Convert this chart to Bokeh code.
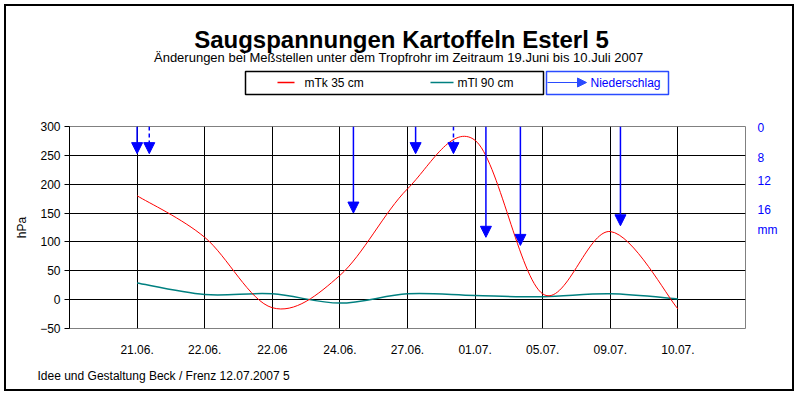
from bokeh.plotting import figure
from bokeh.layouts import column
from bokeh.models import (Range1d, FixedTicker, LinearAxis, Arrow, NormalHead, ColumnDataSource)
from bokeh.core.properties import value
from bokeh.embed import file_html
from bokeh.resources import INLINE

# ---------------- data ----------------
categories = ["21.06.", "22.06.", "22.06", "24.06.", "27.06.", "01.07.", "05.07.", "09.07.", "10.07."]
positions = [1, 2, 3, 4, 5, 6, 7, 8, 9]
mTk_35 = [180, 108, -14, 42, 192, 276, 10, 118, -16]
mTl_90 = [29, 9, 10, -6, 10, 7, 5, 10, 1]
rain_pos = [1.00, 1.18, 4.20, 5.12, 5.68, 6.16, 6.67, 8.15]
rain_tip = [253, 253, 150, 253, 253, 108, 94, 128]      # arrow tips, in hPa axis units
rain_dashed = [False, True, False, False, True, False, False, False]
y_ticks = [-50, 0, 50, 100, 150, 200, 250, 300]
mm_labels = ["0", "8", "12", "16", "mm"]
mm_label_pos = [298, 245, 205, 156, 121]

TITLE = "Saugspannungen Kartoffeln Esterl 5"
SUBTITLE = "Änderungen bei Meßstellen unter dem Tropfrohr im Zeitraum 19.Juni bis  10.Juli 2007"
FOOTER = "Idee und Gestaltung Beck / Frenz 12.07.2007  5"
legend_names = ["mTk  35 cm", "mTl 90 cm"]
legend_colors = ["#ff0000", "#008080"]

# ---------------- layout (page pixels) ----------------
FONT = "Liberation Sans"
BLUE = "#0000ff"
LBLUE = "#2a4bff"
OX, OY = 6, 6                 # content origin (margin + border)
CW = 786                      # content width
HEAD_B = 116                  # bottom of header strip
FL, FR, FT, FB = 69, 745, 126, 328   # chart frame
MAIN_B = 362                  # bottom of chart strip
FOOT_B = 389                  # bottom of footer strip


def strip(top, bottom):
    f = figure(width=CW, height=bottom - top, x_range=Range1d(OX, OX + CW),
               y_range=Range1d(bottom, top), x_axis_type=None, y_axis_type=None,
               output_backend="svg", toolbar_location=None,
               min_border=0, min_border_left=0, min_border_right=0,
               min_border_top=0, min_border_bottom=0)
    f.frame_align = False
    f.title.visible = False
    f.outline_line_color = None
    f.grid.visible = False
    f.background_fill_color = "white"
    f.border_fill_color = "white"
    return f


# ---------- header ----------
head = strip(OY, HEAD_B)
head.text(x=[401], y=[39], text=[TITLE], text_font=value(FONT), text_font_size=value("24px"),
          text_font_style="bold", text_align="center", text_baseline="middle", text_color="black")
head.text(x=[400], y=[57], text=[SUBTITLE], text_font=value(FONT), text_font_size=value("13px"),
          text_align="center", text_baseline="middle", text_color="black")
head.quad(left=[245], right=[543], top=[71], bottom=[94], fill_color=None,
          line_color="black", line_width=1.5)
head.quad(left=[546], right=[668], top=[71], bottom=[94], fill_color=None,
          line_color=LBLUE, line_width=1.5)
head.segment(x0=[277, 430], y0=[82, 82], x1=[294, 453], y1=[82, 82],
             line_color=legend_colors, line_width=1.5)
head.text(x=[304, 457], y=[82, 82], text=legend_names, text_font=value(FONT),
          text_font_size=value("12px"), text_align="left", text_baseline="middle",
          text_color="black")
head.add_layout(Arrow(end=NormalHead(size=9, fill_color=LBLUE, line_color=LBLUE, line_width=1),
                      x_start=547, y_start=82, x_end=586, y_end=82,
                      line_color=LBLUE, line_width=1.2))
head.text(x=[590], y=[82], text=["Niederschlag"], text_font=value(FONT),
          text_font_size=value("12px"), text_align="left", text_baseline="middle",
          text_color=BLUE)

# ---------- main chart ----------
p = figure(width=CW, height=MAIN_B - HEAD_B, x_range=Range1d(0, 10), y_range=Range1d(-50, 300),
           output_backend="svg", toolbar_location=None,
           min_border_left=FL - OX, min_border_right=OX + CW - FR,
           min_border_top=FT - HEAD_B, min_border_bottom=MAIN_B - FB)
p.title.visible = False
p.background_fill_color = "white"
p.border_fill_color = "white"
p.outline_line_color = "#808080"
p.outline_line_width = 1

p.xaxis.ticker = FixedTicker(ticks=positions)
p.xaxis.major_label_overrides = {k: v for k, v in zip(positions, categories)}
p.xaxis.axis_line_color = None
p.xaxis.major_tick_line_color = None
p.xaxis.minor_tick_line_color = None
p.xaxis.major_tick_out = 0
p.xaxis.major_tick_in = 0
p.xaxis.major_label_standoff = 16
p.xaxis.major_label_text_font = FONT
p.xaxis.major_label_text_font_size = "12px"
p.xaxis.major_label_text_color = "black"

p.yaxis.ticker = FixedTicker(ticks=y_ticks)
p.yaxis.axis_line_color = "black"
p.yaxis.major_tick_line_color = "black"
p.yaxis.minor_tick_line_color = None
p.yaxis.major_tick_out = 5
p.yaxis.major_tick_in = 0
p.yaxis.major_label_standoff = 4
p.yaxis.major_label_text_font = FONT
p.yaxis.major_label_text_font_size = "12px"
p.yaxis.major_label_text_color = "black"
p.yaxis.axis_label = "hPa"
p.yaxis.axis_label_text_font = FONT
p.yaxis.axis_label_text_font_size = "12px"
p.yaxis.axis_label_text_font_style = "normal"
p.yaxis.axis_label_text_color = "black"
p.yaxis.axis_label_standoff = 8

p.xgrid.ticker = FixedTicker(ticks=positions)
p.xgrid.grid_line_color = "black"
p.ygrid.ticker = FixedTicker(ticks=y_ticks[1:-1])
p.ygrid.grid_line_color = "black"

right = LinearAxis(ticker=FixedTicker(ticks=mm_label_pos),
                   major_label_overrides={k: v for k, v in zip(mm_label_pos, mm_labels)},
                   axis_line_color=None, major_tick_line_color=None, minor_tick_line_color=None,
                   major_tick_out=0, major_tick_in=0, major_label_standoff=12,
                   major_label_text_font=FONT, major_label_text_font_size="12px",
                   major_label_text_color=BLUE)
p.add_layout(right, "right")


def smooth(xs, ys):
    """cubic Bezier segments through the data points (Excel-like smoothing)"""
    n = len(xs)
    pts = list(zip(xs, ys))
    d = {k: [] for k in ["x0", "y0", "x1", "y1", "cx0", "cy0", "cx1", "cy1"]}
    for i in range(n - 1):
        p0 = pts[i - 1] if i > 0 else pts[i]
        p1, p2 = pts[i], pts[i + 1]
        p3 = pts[i + 2] if i + 2 < n else pts[i + 1]
        d["x0"].append(p1[0]); d["y0"].append(p1[1])
        d["x1"].append(p2[0]); d["y1"].append(p2[1])
        d["cx0"].append(p1[0] + (p2[0] - p0[0]) / 6); d["cy0"].append(p1[1] + (p2[1] - p0[1]) / 6)
        d["cx1"].append(p2[0] - (p3[0] - p1[0]) / 6); d["cy1"].append(p2[1] - (p3[1] - p1[1]) / 6)
    return ColumnDataSource(d)


for ys, col, lw in [(mTl_90, "#008080", 1.5), (mTk_35, "#ff0000", 1)]:
    p.bezier(x0="x0", y0="y0", x1="x1", y1="y1", cx0="cx0", cy0="cy0", cx1="cx1", cy1="cy1",
             source=smooth(positions, ys), line_color=col, line_width=lw)

for dashed, dash in [(False, "solid"), (True, "4 3")]:
    idx = [i for i, dd in enumerate(rain_dashed) if dd == dashed]
    src = ColumnDataSource(dict(x=[rain_pos[i] for i in idx],
                                y0=[y_ticks[-1]] * len(idx),
                                y1=[rain_tip[i] for i in idx]))
    p.add_layout(Arrow(end=NormalHead(size=11, fill_color=BLUE, line_color=BLUE, line_width=1),
                       x_start="x", y_start="y0", x_end="x", y_end="y1", source=src,
                       line_color=BLUE, line_width=1.5, line_dash=dash))

# ---------- footer ----------
foot = strip(MAIN_B, FOOT_B)
foot.text(x=[37], y=[375], text=[FOOTER], text_font=value(FONT), text_font_size=value("12px"),
          text_align="left", text_baseline="middle", text_color="black")

layout = column(head, p, foot, spacing=0, margin=(4, 0, 0, 4),
                styles={"border": "2px solid black", "background-color": "white"})

open("out.html", "w").write(file_html(layout, INLINE))
